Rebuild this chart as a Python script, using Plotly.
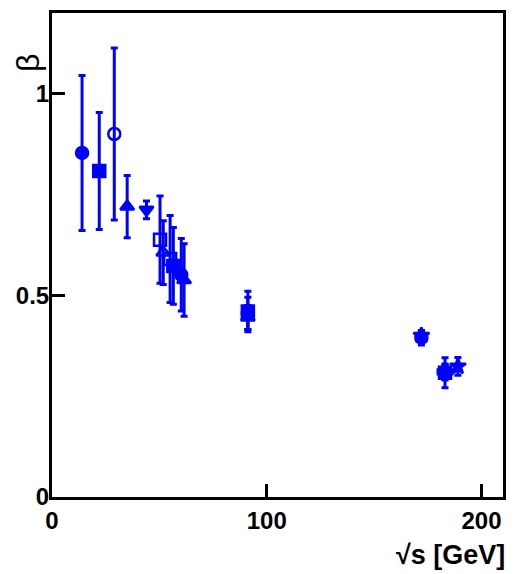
import plotly.graph_objects as go

# sqrt(s) in GeV, beta and its error
sqrt_s = [14.0, 22.0, 29.0, 35.0, 44.0, 50.3, 51.8, 55.0, 56.5, 60.2, 61.5,
          91.2, 91.2, 91.2, 172.0, 172.0, 183.0, 183.0, 189.0]
beta = [0.853, 0.808, 0.900, 0.720, 0.712, 0.638, 0.606, 0.590, 0.573, 0.551, 0.538,
        0.460, 0.445, 0.455, 0.395, 0.400, 0.308, 0.310, 0.324]
beta_err = [0.192, 0.145, 0.213, 0.077, 0.022, 0.108, 0.079, 0.108, 0.095, 0.090, 0.090,
            0.050, 0.030, 0.040, 0.018, 0.012, 0.037, 0.020, 0.022]

symbols = ["circle", "square", "circle-open", "triangle-up", "triangle-down",
           "square-open", "triangle-up-open", "square-open", "square", "circle", "triangle-up",
           "square", "triangle-up", "circle", "circle", "star", "square", "cross", "star"]

blue = "#0000ff"

fig = go.Figure()
fig.add_trace(go.Scatter(
    x=sqrt_s, y=beta, mode="markers",
    marker=dict(symbol=symbols, size=12, color=blue, line=dict(color=blue, width=2.5)),
    error_y=dict(type="data", array=beta_err, visible=True, color=blue, thickness=3, width=3.5),
    showlegend=False,
))

axis_common = dict(
    showline=True, linecolor="black", linewidth=3, mirror=True,
    ticks="inside", ticklen=13, tickwidth=3, tickcolor="black",
    showgrid=False, zeroline=False,
    tickfont=dict(family="Liberation Sans", size=24, color="black", weight="bold"),
)

fig.update_xaxes(range=[0, 210], tickvals=[0, 100, 200], ticktext=["0", "100", "200"], **axis_common)
fig.update_yaxes(range=[0, 1.2], tickvals=[0, 0.5, 1], ticktext=["0", "0.5", "1"],
                 ticklabelstandoff=-5, **axis_common)

fig.update_layout(
    width=516, height=574,
    margin=dict(l=52, r=10, t=13, b=77),
    plot_bgcolor="white", paper_bgcolor="white",
    annotations=[
        dict(text="√s [GeV]", x=1.0, y=-0.085, xref="paper", yref="paper", xshift=4,
             xanchor="right", yanchor="top", showarrow=False,
             font=dict(family="Liberation Sans", size=27, color="black", weight="bold")),
        dict(text="β", x=-0.053, y=0.897, xref="paper", yref="paper", textangle=-90,
             xanchor="center", yanchor="middle", showarrow=False,
             font=dict(family="Liberation Sans", size=32, color="black")),
    ],
)

# drop the default page margin so the figure sits at the window corner
fig.write_html("out.html", config={"displayModeBar": False},
               post_script="document.body.style.margin='0';")
